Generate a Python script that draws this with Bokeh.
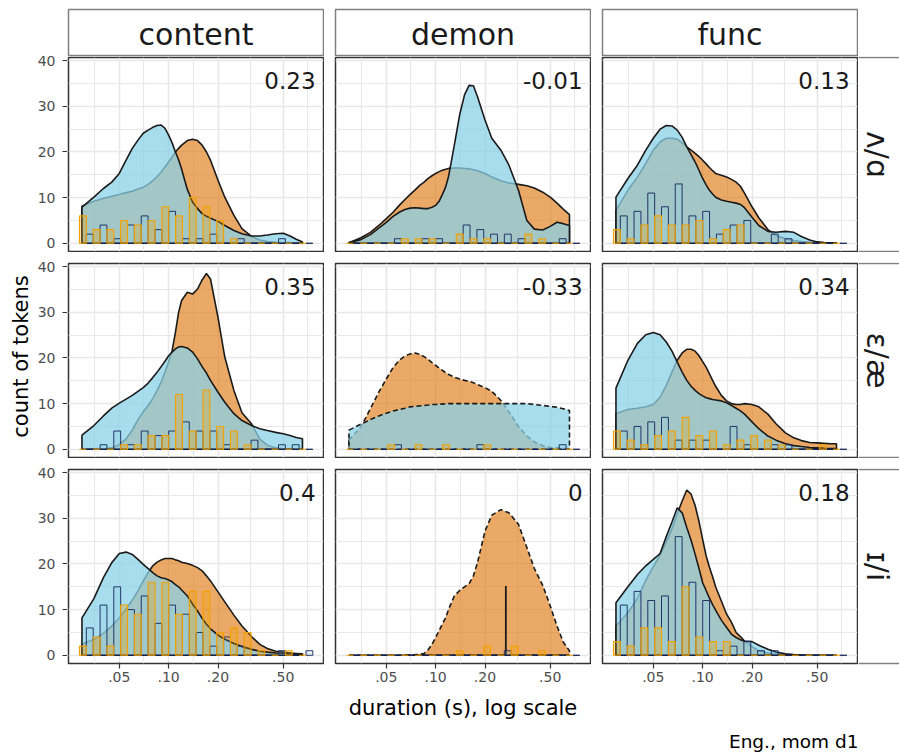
import math
from bokeh.plotting import figure
from bokeh.layouts import row, column
from bokeh.models import Spacer, FixedTicker, Range1d
from bokeh.core.properties import value
from bokeh.embed import file_html
from bokeh.resources import INLINE

FONT = "DejaVu Sans"

# ---------------- data ----------------
WORD_CLASSES = ["content", "demon", "func"]
VOWEL_PAIRS = ["ʌ/ɑ", "ɛ/æ", "ɪ/i"]
CORRELATIONS = [["0.23", "-0.01", "0.13"],
                ["0.35", "-0.33", "0.34"],
                ["0.4", "0", "0.18"]]
DASHED = [[False, False, False],
          [False, True, False],
          [False, True, False]]

X_TICKS = [0.05, 0.1, 0.2, 0.5]
X_TICK_LABELS = [".05", ".10", ".20", ".50"]
X_MINOR = [0.0354, 0.0707, 0.1414, 0.3162, 0.7071]
Y_TICKS = [0, 10, 20, 30, 40]
Y_MINOR = [5, 15, 25, 35]

# density evaluation points (duration, s)
DENS_X = [0.0296, 0.035, 0.04, 0.045, 0.05, 0.055, 0.06, 0.065, 0.07, 0.075,
          0.08, 0.085, 0.09, 0.095, 0.10, 0.105, 0.11, 0.115, 0.12, 0.13,
          0.14, 0.15, 0.16, 0.17, 0.18, 0.20, 0.22, 0.25, 0.28, 0.32,
          0.36, 0.40, 0.45, 0.50, 0.55, 0.60, 0.655]

# row 1: ʌ/ɑ
BLUE_CONTENT_1 = [7.9, 10.1, 12.0, 13.4, 15.3, 18.2, 20.8, 22.6, 24.1, 24.8,
                  25.4, 25.8, 25.9, 25.2, 23.7, 22.0, 20.0, 18.3, 16.2, 11.8,
                  9.0, 7.6, 6.5, 5.9, 5.5, 4.8, 3.9, 2.8, 2.1, 1.6,
                  1.6, 1.8, 2.1, 2.2, 1.6, 0.9, 0.3]
ORANGE_CONTENT_1 = [8.1, 9.2, 9.8, 10.3, 10.7, 11.1, 11.4, 11.9, 12.3, 12.9,
                    13.7, 14.6, 15.6, 16.7, 17.8, 18.9, 20.0, 20.8, 21.5, 22.5,
                    22.8, 22.5, 21.5, 20.0, 18.2, 13.8, 10.1, 6.1, 3.2, 1.5,
                    0.7, 0.4, 0.2, 0.15, 0.1, 0.05, 0.05]
BLUE_DEMON_1 = [0.15, 0.8, 1.9, 3.3, 4.6, 5.9, 6.8, 7.4, 7.7, 7.8,
                7.7, 7.6, 7.6, 7.9, 8.3, 9.2, 10.7, 12.3, 14.7, 21.5,
                28.1, 32.5, 34.6, 34.5, 32.1, 27.0, 23.0, 20.4, 17.1, 11.6,
                5.0, 3.1, 2.9, 3.7, 4.6, 4.3, 3.9]
ORANGE_DEMON_1 = [0.1, 1.2, 2.4, 3.9, 5.4, 6.8, 8.3, 9.6, 10.7, 11.7,
                  12.7, 13.4, 14.2, 14.8, 15.3, 15.7, 16.0, 16.2, 16.4, 16.5,
                  16.5, 16.4, 16.3, 16.1, 15.9, 15.3, 14.5, 13.7, 13.2, 12.9,
                  12.6, 12.1, 11.2, 10.1, 8.8, 7.5, 6.3]
BLUE_FUNC_1 = [10.1, 14.2, 17.1, 20.4, 23.0, 25.0, 25.8, 25.7, 24.8, 23.2,
               21.1, 19.4, 17.8, 16.0, 14.2, 12.8, 11.6, 10.8, 10.1, 9.5,
               9.2, 9.0, 8.8, 8.5, 7.8, 5.7, 3.9, 2.6, 2.4, 2.6,
               2.4, 1.5, 0.7, 0.3, 0.15, 0.1, 0.05]
ORANGE_FUNC_1 = [7.2, 11.6, 14.5, 17.5, 20.4, 22.2, 23.0, 23.0, 22.8, 22.0,
                 21.1, 20.4, 19.7, 19.0, 18.2, 17.4, 16.6, 15.9, 15.3, 14.9,
                 14.5, 14.0, 13.4, 12.5, 11.0, 8.0, 5.6, 3.0, 1.7, 1.0,
                 0.6, 0.4, 0.2, 0.15, 0.1, 0.05, 0.05]

# row 2: ɛ/æ
BLUE_CONTENT_2 = [3.1, 5.2, 7.3, 9.0, 10.1, 11.0, 11.8, 12.7, 13.5, 14.5,
                  15.7, 16.9, 18.1, 19.3, 20.5, 21.3, 22.0, 22.4, 22.5, 22.2,
                  21.3, 19.8, 18.1, 16.7, 15.1, 12.5, 10.3, 7.8, 6.3, 5.2,
                  4.5, 4.1, 3.7, 3.4, 3.0, 2.6, 2.3]
ORANGE_CONTENT_2 = [0.0, 0.0, 0.05, 0.3, 1.0, 2.3, 4.2, 6.5, 8.2, 9.6,
                    11.1, 12.9, 14.7, 16.9, 19.1, 21.6, 25.6, 30.0, 32.6, 34.4,
                    34.0, 35.1, 37.1, 38.5, 37.3, 28.9, 20.2, 12.9, 8.0, 5.6,
                    2.2, 0.9, 0.3, 0.1, 0.05, 0.0, 0.0]
BLUE_DEMON_2 = [4.2, 5.5, 6.5, 7.3, 7.9, 8.4, 8.7, 9.0, 9.3, 9.4,
                9.5, 9.6, 9.7, 9.8, 9.8, 9.9, 9.9, 10.0, 10.0, 10.0,
                10.0, 10.0, 10.0, 10.0, 10.0, 10.0, 10.0, 10.0, 10.0, 10.0,
                10.0, 9.8, 9.6, 9.4, 9.2, 8.9, 8.5]
ORANGE_DEMON_2 = [2.0, 4.9, 8.9, 12.5, 15.4, 17.9, 19.5, 20.4, 20.9, 21.1,
                  20.8, 20.3, 19.7, 19.0, 18.4, 17.8, 17.3, 16.8, 16.4, 15.8,
                  15.4, 15.1, 14.9, 14.6, 14.2, 13.5, 12.7, 10.7, 8.2, 5.0,
                  2.9, 1.6, 0.8, 0.4, 0.3, 0.2, 0.1]
BLUE_FUNC_2 = [13.4, 19.5, 23.2, 25.1, 25.6, 25.1, 23.5, 21.5, 19.1, 16.9,
               15.1, 13.8, 12.9, 12.2, 11.7, 11.3, 11.1, 10.9, 10.8, 10.6,
               10.2, 9.6, 9.0, 8.4, 7.7, 6.0, 4.5, 2.9, 2.0, 1.2,
               0.8, 0.6, 0.4, 0.3, 0.2, 0.15, 0.15]
ORANGE_FUNC_2 = [7.8, 8.7, 9.0, 9.3, 9.8, 11.4, 14.0, 16.9, 19.5, 21.1,
                 21.9, 21.9, 21.5, 20.5, 19.2, 18.0, 16.5, 15.1, 13.8, 11.8,
                 10.6, 10.0, 9.8, 9.8, 10.0, 9.8, 9.3, 7.7, 5.6, 3.6,
                 2.5, 1.9, 1.5, 1.4, 1.3, 1.2, 1.2]

# row 3: ɪ/i
BLUE_CONTENT_3 = [8.2, 12.4, 17.0, 20.3, 22.3, 22.6, 22.1, 21.0, 19.9, 19.0,
                  18.1, 17.4, 17.0, 16.8, 16.5, 16.1, 15.5, 15.0, 14.3, 13.0,
                  11.2, 9.7, 8.1, 6.8, 5.8, 4.4, 3.5, 2.6, 1.9, 1.3,
                  0.9, 0.7, 0.5, 0.45, 0.4, 0.3, 0.2]
ORANGE_CONTENT_3 = [2.4, 3.5, 4.8, 6.4, 8.2, 10.1, 12.1, 14.1, 16.3, 18.1,
                    19.6, 20.4, 20.9, 21.2, 21.2, 21.2, 20.9, 20.7, 20.4, 20.1,
                    19.7, 19.2, 18.5, 17.4, 16.3, 13.9, 11.7, 8.8, 6.4, 4.1,
                    2.4, 1.5, 0.9, 0.7, 0.5, 0.4, 0.3]
BLUE_DEMON_3 = [0, 0, 0, 0, 0, 0, 0, 0, 0, 0,
                0, 0, 0, 0, 0, 0, 0, 0, 0, 0,
                0, 0, 0, 0, 0, 0, 0, 0, 0, 0,
                0, 0, 0, 0, 0, 0, 0]
ORANGE_DEMON_3 = [0, 0, 0, 0, 0, 0, 0, 0.05, 0.1, 0.15,
                  0.2, 0.4, 1.2, 2.4, 3.9, 5.4, 6.9, 8.2, 10.1, 13.0,
                  14.2, 15.0, 15.7, 17.4, 20.3, 27.2, 30.7, 31.9, 31.2, 28.7,
                  23.6, 19.0, 15.3, 10.8, 6.4, 2.9, 1.0]
BLUE_FUNC_3 = [11.5, 15.0, 17.7, 19.6, 21.0, 22.3, 26.0, 29.2, 32.3, 31.2,
               28.0, 25.2, 22.1, 19.0, 15.9, 14.2, 12.5, 11.1, 9.9, 7.7,
               6.1, 4.6, 3.9, 3.4, 3.1, 3.0, 2.2, 1.3, 0.7, 0.35,
               0.15, 0.07, 0, 0, 0, 0, 0]
ORANGE_FUNC_3 = [6.4, 9.3, 12.5, 16.4, 19.4, 22.0, 24.8, 27.7, 31.0, 33.8,
                 36.2, 35.3, 32.8, 29.3, 25.4, 21.8, 19.3, 17.2, 15.0, 11.9,
                 9.0, 7.2, 5.0, 4.1, 3.1, 1.9, 0.95, 0.5, 0.2, 0.1,
                 0.05, 0.05, 0, 0, 0, 0, 0]

# demon ɪ/i: the blue group collapses to a single spike
SPIKE_X = [0.268]
SPIKE_TOP = [15.2]

# histogram bins (17 bins, log-spaced edges)
BIN_EDGES = [0.02858, 0.03466, 0.04203, 0.05096, 0.06180, 0.07494, 0.09087,
             0.11019, 0.13362, 0.16203, 0.19648, 0.23825, 0.28891, 0.35034,
             0.42482, 0.51514, 0.62466, 0.75746]

HIST_ORANGE_CONTENT_1 = [6, 3, 3, 5, 4, 5, 8, 6, 10, 8, 5, 1, 0, 0, 0, 0, 0]
HIST_BLUE_CONTENT_1 = [2, 4, 1, 4, 6, 3, 7, 1, 1, 2, 0, 1, 0, 0, 1, 0, 0]
HIST_ORANGE_DEMON_1 = [0, 0, 0, 0, 1, 1, 1, 0, 2, 1, 1, 0, 0, 2, 1, 0, 0]
HIST_BLUE_DEMON_1 = [0, 0, 0, 1, 0, 1, 1, 0, 4, 3, 2, 2, 1, 0, 0, 1, 0]
HIST_ORANGE_FUNC_1 = [3, 1, 4, 6, 4, 4, 5, 1, 3, 4, 0, 0, 0, 0, 0, 0, 0]
HIST_BLUE_FUNC_1 = [6, 7, 11, 8, 13, 6, 7, 2, 4, 5, 0, 2, 1, 0, 0, 0, 0]

HIST_ORANGE_CONTENT_2 = [0, 0, 0, 1, 1, 3, 3, 12, 4, 13, 5, 4, 1, 0, 0, 0, 0]
HIST_BLUE_CONTENT_2 = [0, 1, 4, 1, 4, 3, 4, 6, 4, 4, 1, 0, 2, 0, 1, 1, 0]
HIST_ORANGE_DEMON_2 = [0, 0, 0, 1, 0, 1, 0, 1, 0, 0, 1, 0, 0, 0, 0, 0, 0]
HIST_BLUE_DEMON_2 = [0, 0, 0, 1, 0, 0, 0, 0, 0, 1, 0, 0, 0, 0, 0, 1, 0]
HIST_ORANGE_FUNC_2 = [4, 2, 1, 3, 4, 7, 3, 4, 1, 2, 3, 2, 1, 0, 0, 1, 0]
HIST_BLUE_FUNC_2 = [4, 5, 6, 7, 2, 2, 2, 0, 5, 1, 0, 1, 1, 0, 0, 0, 0]

HIST_ORANGE_CONTENT_3 = [2, 4, 2, 11, 9, 16, 16, 9, 14, 14, 5, 6, 5, 1, 0, 1, 0]
HIST_BLUE_CONTENT_3 = [6, 11, 15, 10, 13, 7, 11, 9, 5, 2, 4, 2, 0, 0, 1, 0, 1]
HIST_ORANGE_DEMON_3 = [0, 0, 0, 0, 0, 0, 0, 0, 1, 0, 2, 0, 2, 0, 1, 0, 0]
HIST_BLUE_DEMON_3 = [0, 0, 0, 0, 0, 0, 0, 0, 0, 0, 0, 1, 0, 0, 0, 0, 0]
HIST_ORANGE_FUNC_3 = [3, 2, 6, 6, 3, 15, 4, 3, 3, 0, 0, 0, 0, 0, 0, 0, 0]
HIST_BLUE_FUNC_3 = [11, 14, 12, 13, 26, 16, 12, 1, 2, 3, 1, 1, 0, 0, 0, 0, 0]

# tables assembled from the named arrays
DENS = [[(BLUE_CONTENT_1, ORANGE_CONTENT_1), (BLUE_DEMON_1, ORANGE_DEMON_1), (BLUE_FUNC_1, ORANGE_FUNC_1)],
        [(BLUE_CONTENT_2, ORANGE_CONTENT_2), (BLUE_DEMON_2, ORANGE_DEMON_2), (BLUE_FUNC_2, ORANGE_FUNC_2)],
        [(BLUE_CONTENT_3, ORANGE_CONTENT_3), (BLUE_DEMON_3, ORANGE_DEMON_3), (BLUE_FUNC_3, ORANGE_FUNC_3)]]
HISTS = [[(HIST_BLUE_CONTENT_1, HIST_ORANGE_CONTENT_1), (HIST_BLUE_DEMON_1, HIST_ORANGE_DEMON_1), (HIST_BLUE_FUNC_1, HIST_ORANGE_FUNC_1)],
         [(HIST_BLUE_CONTENT_2, HIST_ORANGE_CONTENT_2), (HIST_BLUE_DEMON_2, HIST_ORANGE_DEMON_2), (HIST_BLUE_FUNC_2, HIST_ORANGE_FUNC_2)],
         [(HIST_BLUE_CONTENT_3, HIST_ORANGE_CONTENT_3), (HIST_BLUE_DEMON_3, HIST_ORANGE_DEMON_3), (HIST_BLUE_FUNC_3, HIST_ORANGE_FUNC_3)]]

# ---------------- style ----------------
BLUE = "#8BD1E7"
BLUE_ALPHA = 0.75
ORANGE = "#E07B16"
ORANGE_ALPHA = 0.65
NAVY = "#16245E"
BAR_ORANGE = "#F2A100"
OUTLINE = "#1A1A1A"
GRID = "#E8E8E8"
PANEL_BORDER = "#333333"
STRIP_BORDER = "#808080"
TEXT = "#1A1A1A"

PW, PH = 255, 194
X_RANGE = (0.0245, 0.88)
Y_RANGE = (-1.8, 40.7)


def style_grids(p):
    for g in p.xgrid:
        g.axis.ticker = FixedTicker(ticks=X_TICKS, minor_ticks=X_MINOR)
        g.grid_line_color = GRID
        g.grid_line_width = 1.6
        g.minor_grid_line_color = GRID
        g.minor_grid_line_width = 1.1
    for g in p.ygrid:
        g.axis.ticker = FixedTicker(ticks=Y_TICKS, minor_ticks=Y_MINOR)
        g.grid_line_color = GRID
        g.grid_line_width = 1.6
        g.minor_grid_line_color = GRID
        g.minor_grid_line_width = 1.1


def make_panel(r, c):
    bottom = 28 if r == 2 else 1
    p = figure(width=PW + 2, height=PH + 1 + bottom,
               x_axis_type="log",
               x_range=Range1d(*X_RANGE), y_range=Range1d(*Y_RANGE),
               x_axis_location="below" if r == 2 else None,
               y_axis_location=None,
               toolbar_location=None, output_backend="svg",
               min_border_left=1, min_border_right=1,
               min_border_top=1, min_border_bottom=bottom,
               background_fill_color="white", border_fill_color="white",
               outline_line_color=PANEL_BORDER, outline_line_width=1.5)
    style_grids(p)
    if r == 2:
        ax = p.xaxis[0]
        ax.axis_line_color = None
        ax.major_tick_out = 5
        ax.major_tick_in = 1
        ax.minor_tick_out = 0
        ax.minor_tick_in = 0
        ax.major_tick_line_color = PANEL_BORDER
        ax.major_tick_line_width = 1.2
        ax.major_label_text_color = "#4D4D4D"
        ax.major_label_text_font = FONT
        ax.major_label_text_font_size = "14px"
        ax.major_label_standoff = 3
        ax.major_label_overrides = {t: lab for t, lab in zip(X_TICKS, X_TICK_LABELS)}

    blue_d, orange_d = DENS[r][c]
    blue_h, orange_h = HISTS[r][c]
    dash = "5 3" if DASHED[r][c] else "solid"
    xs = DENS_X + [DENS_X[-1], DENS_X[0]]

    lefts = BIN_EDGES[:-1]
    rights = BIN_EDGES[1:]
    mids = [math.sqrt(a * b) for a, b in zip(lefts, rights)]

    # orange density (under), blue density (over)
    p.patch(xs, list(orange_d) + [0, 0], fill_color=ORANGE, fill_alpha=ORANGE_ALPHA,
            line_color=OUTLINE, line_width=1.6, line_dash=dash)
    p.patch(xs, list(blue_d) + [0, 0], fill_color=BLUE, fill_alpha=BLUE_ALPHA,
            line_color=OUTLINE, line_width=1.6, line_dash=dash)
    if r == 2 and c == 1:
        p.segment(x0=SPIKE_X, y0=[0], x1=SPIKE_X, y1=SPIKE_TOP,
                  line_color=OUTLINE, line_width=1.8)
    # dodged histogram bars: blue in the right half of each bin, orange in the left half
    p.quad(left=mids, right=rights, bottom=[0] * len(mids), top=blue_h,
           fill_color=BLUE, fill_alpha=0.2, line_color=NAVY, line_alpha=0.9, line_width=1)
    p.quad(left=lefts, right=mids, bottom=[0] * len(mids), top=orange_h,
           fill_color=BAR_ORANGE, fill_alpha=0.3, line_color=BAR_ORANGE, line_width=1.1)

    p.text(x=[0.787], y=[35.7], text=[CORRELATIONS[r][c]], text_align="right",
           text_baseline="middle", text_font=value(FONT), text_font_size="23px",
           text_color=TEXT)
    return p


def make_yaxis(r):
    top = 10 if r == 0 else 6
    bottom = 28 if r == 2 else 6
    a = figure(width=33, height=PH + top + bottom,
               x_range=Range1d(0, 1), y_range=Range1d(*Y_RANGE),
               x_axis_location=None, y_axis_location="left",
               toolbar_location=None, output_backend="svg",
               min_border_left=32, min_border_right=0,
               min_border_top=top, min_border_bottom=bottom,
               background_fill_color="white", border_fill_color="white",
               outline_line_color=None)
    a.grid.visible = False
    ax = a.yaxis[0]
    ax.ticker = FixedTicker(ticks=Y_TICKS)
    ax.axis_line_color = None
    ax.major_tick_out = 5
    ax.major_tick_in = 1
    ax.minor_tick_out = 0
    ax.minor_tick_in = 0
    ax.major_tick_line_color = PANEL_BORDER
    ax.major_tick_line_width = 1.2
    ax.major_label_text_color = "#4D4D4D"
    ax.major_label_text_font = FONT
    ax.major_label_text_font_size = "14px"
    ax.major_label_standoff = 7
    return a


def blank_fig(width, height, xr, yr, **kw):
    f = figure(width=width, height=height, x_range=Range1d(*xr), y_range=Range1d(*yr),
               x_axis_location=None, y_axis_location=None,
               toolbar_location=None, output_backend="svg",
               background_fill_color="white", border_fill_color="white", **kw)
    f.grid.visible = False
    return f


def make_top_strip(c):
    s = blank_fig(PW + 2, 48, (0, 1), (0, 1),
                  min_border_left=1, min_border_right=1, min_border_top=1, min_border_bottom=0,
                  outline_line_color=STRIP_BORDER, outline_line_width=1.5)
    s.text(x=[0.5], y=[0.46], text=[WORD_CLASSES[c]], text_align="center",
           text_baseline="middle", text_font=value(FONT), text_font_size="30px",
           text_color=TEXT)
    return s


def make_right_strip(r):
    h = PH + 1 + (28 if r == 2 else 1)
    s = blank_fig(41, h, (0, 41), (h, 0), min_border=0, outline_line_color=None)
    # top and bottom strip borders (the left one is the panel border)
    s.segment(x0=[0, 0], y0=[1, PH + 1], x1=[41, 41], y1=[1, PH + 1],
              line_color=STRIP_BORDER, line_width=1.5)
    s.text(x=[19], y=[1 + PH / 2], text=[VOWEL_PAIRS[r]], angle=-math.pi / 2,
           text_align="center", text_baseline="middle", text_font=value(FONT),
           text_font_size="30px", text_color=TEXT)
    return s


# left title
title_fig = blank_fig(26, 745, (8, 34), (753, 8), min_border=0, outline_line_color=None)
title_fig.text(x=[20.5], y=[356], text=["count of tokens"], angle=math.pi / 2,
               text_align="center", text_baseline="middle", text_font=value(FONT),
               text_font_size="21px", text_color="black")

# footer: x title and caption
footer = blank_fig(865, 62, (34, 899), (753, 691), min_border=0, outline_line_color=None)
footer.text(x=[462.5], y=[707], text=["duration (s), log scale"], text_align="center",
            text_baseline="middle", text_font=value(FONT), text_font_size="21px",
            text_color="black")
footer.text(x=[858], y=[741], text=["Eng., mom d1"], text_align="right",
            text_baseline="middle", text_font=value(FONT), text_font_size="18.5px",
            text_color="black")

yaxis_col = column(Spacer(width=33, height=39), make_yaxis(0), make_yaxis(1), make_yaxis(2))

panel_cols = []
for c in range(3):
    panel_cols.append(column(make_top_strip(c), make_panel(0, c), Spacer(width=PW + 2, height=10),
                             make_panel(1, c), Spacer(width=PW + 2, height=10), make_panel(2, c)))

strip_col = column(Spacer(width=41, height=48), make_right_strip(0), Spacer(width=41, height=10),
                   make_right_strip(1), Spacer(width=41, height=10), make_right_strip(2))

grid_row = row(yaxis_col, panel_cols[0], Spacer(width=10, height=683), panel_cols[1],
               Spacer(width=10, height=683), panel_cols[2], strip_col)
body = column(grid_row, footer)
layout = column(Spacer(width=899, height=8),
                row(Spacer(width=8, height=745), title_fig, body))

open("out.html", "w").write(file_html(layout, INLINE))
